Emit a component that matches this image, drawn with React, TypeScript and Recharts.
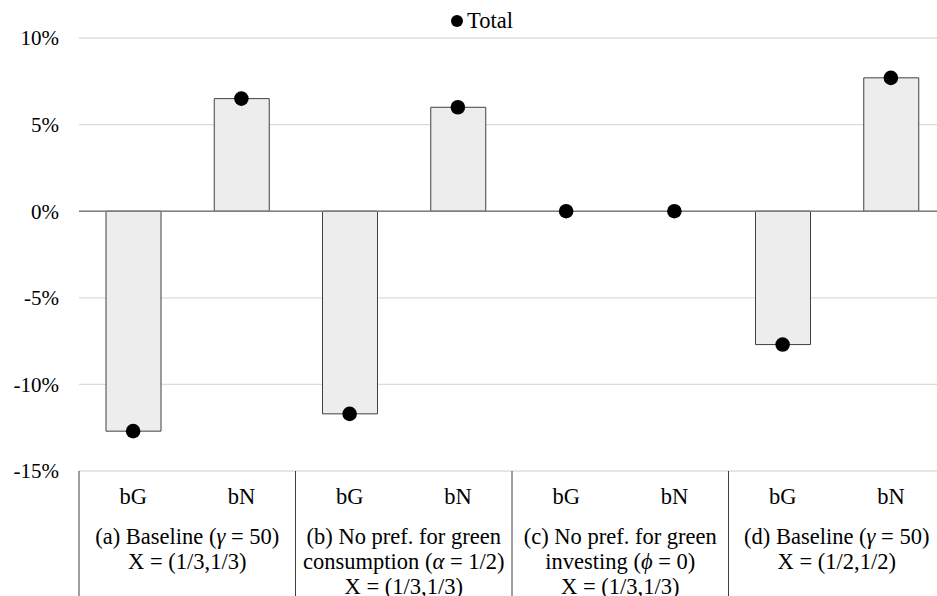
import React from 'react';
import {
  ComposedChart,
  Bar,
  Scatter,
  XAxis,
  YAxis,
  CartesianGrid,
  ReferenceLine,
  Legend,
} from 'recharts';

// Sub-category under each bar
const categories = ['bG', 'bN', 'bG', 'bN', 'bG', 'bN', 'bG', 'bN'];

// Scenario labels, one per pair of bars (each entry is a list of text lines)
const groupLabels: string[][] = [
  ['(a) Baseline (γ = 50)', 'X = (1/3,1/3)'],
  ['(b) No pref. for green', 'consumption (α = 1/2)', 'X = (1/3,1/3)'],
  ['(c) No pref. for green', 'investing (ϕ = 0)', 'X = (1/3,1/3)'],
  ['(d) Baseline (γ = 50)', 'X = (1/2,1/2)'],
];

// Percentage change per category
const barValues = [-12.7, 6.5, -11.7, 6.0, 0, 0, -7.7, 7.7];
const totalValues = [-12.7, 6.5, -11.7, 6.0, 0, 0, -7.7, 7.7];

const yTicks = [-15, -10, -5, 0, 5, 10];

const data = categories.map((sub, i) => ({
  id: String(i),
  sub,
  value: barValues[i],
  total: totalValues[i],
}));

const FONT = "'Liberation Serif', 'Times New Roman', serif";
const TICK_SIZE = 21;
const LABEL_SIZE = 22.5;

const CHART_W = 950;
const CHART_H = 596;
const MARGIN = { top: 38, right: 5, bottom: 0, left: 0 };
const Y_AXIS_W = 79;
const X_AXIS_H = 125;
const PLOT_W = CHART_W - MARGIN.left - MARGIN.right - Y_AXIS_W;
const BAND = PLOT_W / categories.length;

function RichLine({ text }: { text: string }) {
  const parts = text.split(/([γαϕ])/);
  return (
    <>
      {parts.map((p, k) =>
        /[γαϕ]/.test(p) ? (
          <tspan key={k} fontStyle="italic">
            {p}
          </tspan>
        ) : (
          <tspan key={k}>{p}</tspan>
        )
      )}
    </>
  );
}

// Draws the bG/bN label, and for the first bar of each pair the
// group separator and the multi-line scenario caption.
function CategoryTick(props: any) {
  const { x, y, payload } = props;
  const i = typeof props.index === 'number' ? props.index : payload.index;
  const isFirstOfGroup = i % 2 === 0;
  const group = groupLabels[Math.floor(i / 2)];
  const gx = x + BAND / 2;
  return (
    <g>
      <text
        x={x}
        y={y + 33}
        textAnchor="middle"
        fill="#000"
        fontSize={LABEL_SIZE}
        fontFamily={FONT}
      >
        {categories[i]}
      </text>
      {isFirstOfGroup && (
        <line
          x1={x - BAND / 2}
          x2={x - BAND / 2}
          y1={y}
          y2={y + 140}
          stroke="#404040"
          strokeWidth={1}
        />
      )}
      {isFirstOfGroup &&
        group.map((line, k) => (
          <text
            key={k}
            x={gx}
            y={y + 72.5 + k * 25}
            textAnchor="middle"
            fill="#000"
            fontSize={LABEL_SIZE}
            fontFamily={FONT}
          >
            <RichLine text={line} />
          </text>
        ))}
    </g>
  );
}

const Dot = (props: any) => {
  const { cx, cy } = props;
  if (cx == null || cy == null) return null;
  return <circle cx={cx} cy={cy} r={7.3} fill="#000" />;
};

export default function App() {
  return (
    <div
      style={{
        position: 'absolute',
        left: 0,
        top: 0,
        width: 937,
        height: 596,
        overflow: 'hidden',
        background: '#fff',
        fontFamily: FONT,
      }}
    >
      <ComposedChart width={CHART_W} height={CHART_H} data={data} margin={MARGIN}>
        <CartesianGrid vertical={false} stroke="#dcdcdc" strokeWidth={1.3} />
        <XAxis
          dataKey="id"
          height={X_AXIS_H}
          axisLine={false}
          tickLine={false}
          tickSize={0}
          tickMargin={0}
          interval={0}
          tick={<CategoryTick />}
        />
        <YAxis
          width={Y_AXIS_W}
          domain={[-15, 10]}
          ticks={yTicks}
          interval={0}
          axisLine={false}
          tickLine={false}
          tickSize={0}
          tickMargin={20}
          tickFormatter={(v: number) => `${v}%`}
          tick={{ fill: '#000', fontSize: TICK_SIZE, fontFamily: FONT }}
        />
        <ReferenceLine y={0} stroke="#7f7f7f" strokeWidth={1.5} />
        <Bar
          dataKey="value"
          name="Change"
          barSize={55}
          fill="#ededed"
          stroke="#404040"
          strokeWidth={1}
          legendType="none"
          isAnimationActive={false}
        />
        <Scatter
          dataKey="total"
          name="Total"
          fill="#000"
          legendType="circle"
          shape={<Dot />}
          isAnimationActive={false}
        />
        <Legend
          verticalAlign="middle"
          align="center"
          iconType="circle"
          iconSize={12}
          wrapperStyle={{
            top: 6,
            left: 14.5,
            width: 945,
            fontSize: LABEL_SIZE,
            fontFamily: FONT,
          }}
          formatter={(value: string) => (
            <span style={{ color: '#000', position: 'relative', top: 2 }}>{value}</span>
          )}
        />
      </ComposedChart>
    </div>
  );
}
